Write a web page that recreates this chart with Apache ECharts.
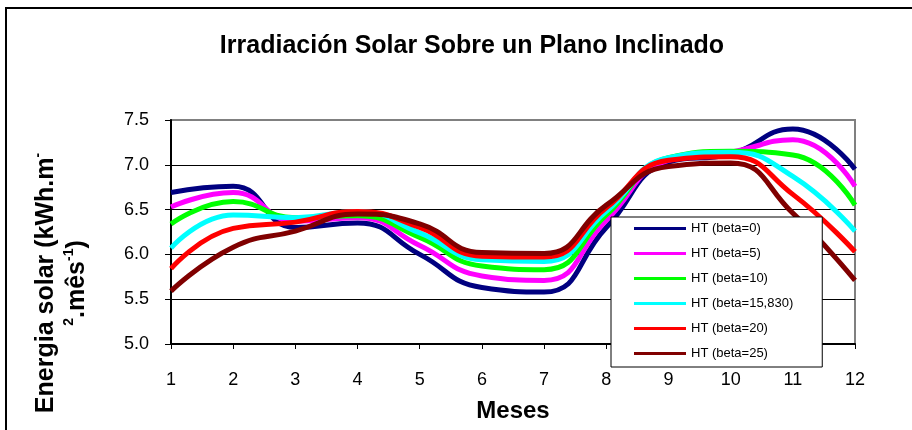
<!DOCTYPE html>
<html>
<head>
<meta charset="utf-8">
<script src="https://cdn.jsdelivr.net/npm/echarts@6/dist/echarts.min.js"></script>
<style>
  html, body { margin: 0; padding: 0; background: #fff; }
  #chart { width: 912px; height: 430px; }
</style>
</head>
<body>
<div id="chart"></div>
<script>
const months = ['1', '2', '3', '4', '5', '6', '7', '8', '9', '10', '11', '12'];
const yTicks = [5.0, 5.5, 6.0, 6.5, 7.0, 7.5];

const seriesNames = ['HT (beta=0)', 'HT (beta=5)', 'HT (beta=10)', 'HT (beta=15,830)', 'HT (beta=20)', 'HT (beta=25)'];
const beta0 = [6.69, 6.76, 6.30, 6.35, 6.00, 5.63, 5.58, 6.30, 7.03, 7.12, 7.40, 6.95];
const beta5 = [6.53, 6.69, 6.37, 6.41, 6.10, 5.76, 5.71, 6.38, 7.05, 7.14, 7.28, 6.76];
const beta10 = [6.34, 6.59, 6.41, 6.43, 6.19, 5.87, 5.83, 6.44, 7.08, 7.15, 7.11, 6.55];
const beta1583 = [6.07, 6.44, 6.41, 6.48, 6.24, 5.94, 5.92, 6.48, 7.08, 7.14, 6.87, 6.26];
const beta20 = [5.84, 6.29, 6.36, 6.48, 6.30, 5.98, 5.97, 6.52, 7.05, 7.09, 6.67, 6.03];
const beta25 = [5.59, 6.08, 6.26, 6.45, 6.34, 6.02, 6.01, 6.55, 6.98, 7.02, 6.46, 5.71];

const seriesData = [beta0, beta5, beta10, beta1583, beta20, beta25];
const colors = ['#000080', '#ff00ff', '#00ff00', '#00ffff', '#ff0000', '#800000'];

const font = 'Liberation Sans';
const chart = echarts.init(document.getElementById('chart'));

const option = {
    animation: false,
    backgroundColor: '#fff',
    title: {
        text: 'Irradiación Solar Sobre un Plano Inclinado',
        left: 472,
        textAlign: 'center',
        top: 34,
        padding: 0,
        textStyle: { fontFamily: font, fontSize: 25, fontWeight: 'bold', color: '#000' }
    },
    graphic: [
        {
            type: 'rect',
            z: -10,
            shape: { x: 6, y: 8, width: 1000, height: 1000 },
            style: { fill: 'none', stroke: '#000', lineWidth: 2 }
        },
        {
            type: 'text',
            x: 62,
            y: 283,
            rotation: Math.PI / 2,
            style: {
                text: 'Energia solar (kWh.m{s|-}\n{s|2}.mês{s|-1})',
                fontFamily: font,
                fontSize: 25,
                fontWeight: 'bold',
                fill: '#000',
                align: 'center',
                verticalAlign: 'middle',
                lineHeight: 31,
                rich: {
                    s: { fontFamily: font, fontSize: 14, fontWeight: 'bold', fill: '#000', verticalAlign: 'top', lineHeight: 31 }
                }
            }
        }
    ],
    legend: {
        orient: 'vertical',
        left: 611,
        top: 217,
        padding: [5, 29, 7, 23],
        icon: 'rect',
        itemWidth: 52,
        itemHeight: 3,
        itemGap: 12,
        backgroundColor: '#fff',
        borderColor: '#000',
        borderWidth: 1,
        textStyle: { fontFamily: font, fontSize: 13, color: '#000' },
        data: seriesNames
    },
    grid: {
        left: 171,
        right: 57,
        top: 120,
        bottom: 86,
        outerBoundsMode: 'none',
        containLabel: false,
        show: true,
        backgroundColor: '#fff',
        borderColor: '#808080',
        borderWidth: 2
    },
    xAxis: {
        type: 'category',
        data: months,
        boundaryGap: false,
        name: 'Meses',
        nameLocation: 'middle',
        nameGap: 55,
        nameTextStyle: { fontFamily: font, fontSize: 24, fontWeight: 'bold', color: '#000' },
        axisLine: { lineStyle: { color: '#000', width: 2 } },
        axisTick: { show: true, length: 5, lineStyle: { color: '#000' } },
        axisLabel: { fontFamily: font, fontSize: 18, color: '#000', margin: 27 },
        splitLine: { show: false }
    },
    yAxis: {
        type: 'value',
        min: yTicks[0],
        max: yTicks[yTicks.length - 1],
        interval: 0.5,
        axisLine: { show: true, lineStyle: { color: '#000', width: 2 } },
        axisTick: { show: true, length: 6, lineStyle: { color: '#000' } },
        axisLabel: {
            fontFamily: font, fontSize: 18, color: '#000', margin: 22,
            formatter: v => v.toFixed(1)
        },
        splitLine: {
            show: true,
            lineStyle: { color: ['#000', '#000', '#000', '#000', '#000', '#808080'], width: 1.2 }
        }
    },
    series: seriesNames.map((name, i) => ({
        name: name,
        type: 'line',
        data: seriesData[i],
        smooth: 0.5,
        symbol: 'none',
        color: colors[i],
        lineStyle: { color: colors[i], width: 5 }
    }))
};

chart.setOption(option);
</script>
</body>
</html>
